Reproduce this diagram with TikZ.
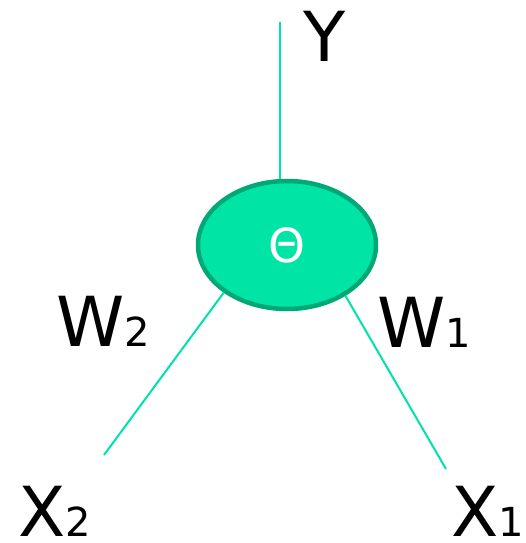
\documentclass[tikz,border=0pt]{standalone}
\usepackage{fontspec}
\setmainfont{DejaVu Sans}
\usepackage{tikz}
\usetikzlibrary{shapes.geometric, positioning}
\definecolor{cFill}{RGB}{0,228,166}
\definecolor{cBorder}{RGB}{0,168,118}
\definecolor{cLine}{RGB}{0,226,170}
\newcommand{\bigsym}[2]{{\fontsize{69}{80}\selectfont #1}{\fontsize{40}{46}\selectfont #2}}
\tikzset{
	unit/.style ={ellipse, draw=cBorder, line width=4.5pt, fill=cFill, minimum width=178pt, minimum height=128pt, inner sep=0pt, text=white, font=\fontsize{47}{52}\selectfont},
	lbl/.style  ={inner sep=0pt, anchor=base west},
	wire/.style ={draw=cLine, line width=2pt},
}
\begin{document}
\begin{tikzpicture}[x=1pt, y=1pt]
	\useasboundingbox (0,0) rectangle (525,-543);
	\node[unit] (th) at (287,-245) {Θ};
	\coordinate (ytop) at (280,-22);
	\coordinate (x2end) at (104,-455);
	\coordinate (x1end) at (446,-469);
	\node[lbl] (y) at (303,-62) {\bigsym{Y}{}};
	\node[lbl] (w2) at (56,-346) {\bigsym{W}{2}};
	\node[lbl] (w1) at (377,-347) {\bigsym{W}{1}};
	\node[lbl] (x2) at (18,-536) {\bigsym{X}{2}};
	\node[lbl] (x1) at (451,-536) {\bigsym{X}{1}};
	\draw[wire] (ytop) -- (ytop |- th.north);
	\draw[wire] (th.217) -- (x2end);
	\draw[wire] (th.319) -- (x1end);
\end{tikzpicture}
\end{document}
